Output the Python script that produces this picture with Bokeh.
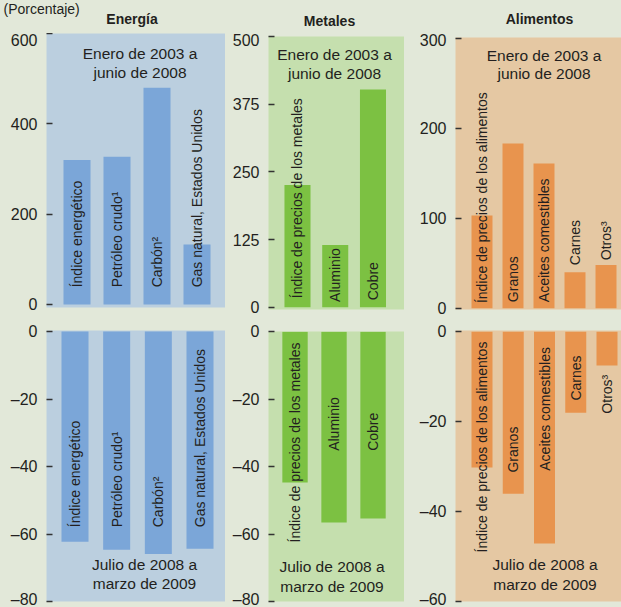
from math import pi
from bokeh.plotting import figure
from bokeh.models import FixedTicker, Label, Range1d
from bokeh.layouts import row, column
from bokeh.embed import file_html
from bokeh.resources import INLINE
from bokeh.core.properties import value

# ---------------- data ----------------
panel_titles = ["Energía", "Metales", "Alimentos"]
period_1 = ["Enero de 2003 a", "junio de 2008"]
period_2 = ["Julio de 2008 a", "marzo de 2009"]
unit_note = "(Porcentaje)"

energy_cats = ["Índice energético", "Petróleo crudo¹", "Carbón²", "Gas natural, Estados Unidos"]
energy_p1 = [320, 327, 480, 133]
energy_p2 = [-62.3, -64.7, -65.9, -64.4]

metal_cats = ["Índice de precios de los metales", "Aluminio", "Cobre"]
metal_p1 = [226, 115, 402]
metal_p2 = [-44.7, -56.6, -55.4]

food_cats = ["Índice de precios de los alimentos", "Granos", "Aceites comestibles", "Carnes", "Otros³"]
food_p1 = [103, 183, 161, 40, 48]
food_p2 = [-30.2, -36.0, -47.1, -18.0, -7.5]

energy_p1_ticks = [0, 200, 400, 600]
metal_p1_ticks = [0, 125, 250, 375, 500]
food_p1_ticks = [0, 100, 200, 300]
energy_p2_ticks = [0, -20, -40, -60, -80]
metal_p2_ticks = [0, -20, -40, -60, -80]
food_p2_ticks = [0, -20, -40, -60]

# where each rotated bar label starts (value units)
energy_p1_label_at = [38, 38, 38, 38]
energy_p2_label_at = [-58, -58, -58, -58]
metal_p1_label_at = [17, 10, 13]
metal_p2_label_at = [-62.5, -35.3, -35.3]
food_p1_label_at = [5.6, 6.7, 6.7, 47.8, 53.3]
food_p2_label_at = [-49.1, -31.3, -30.9, -15.3, -18.2]

# ---------------- style ----------------
FONT = "Liberation Sans"
TXT = "#231f20"
PAGE = "#e2e8d9"
E_BG, E_BAR = "#bbcfdf", "#7ba6d8"
M_BG, M_BAR = "#c5dfae", "#7cc142"
F_BG, F_BAR = "#e5c8a3", "#e8944e"


def panel(w, h, bl, bt, bb, xr, yr, ticks, bg, bar_c, cats, vals, label_at, bar_w):
    p = figure(width=w, height=h, x_range=Range1d(*xr), y_range=Range1d(*yr),
               output_backend="svg", toolbar_location=None, tools="",
               min_border_left=bl, min_border_right=0, min_border_top=bt,
               min_border_bottom=bb, x_axis_location=None, title=None)
    p.background_fill_color = bg
    p.border_fill_color = PAGE
    p.outline_line_color = None
    p.styles = {"background-color": PAGE}
    p.grid.visible = False
    ax = p.yaxis[0]
    ax.ticker = FixedTicker(ticks=ticks)
    ax.major_label_overrides = {t: ("–" + str(abs(t)) if t < 0 else str(t)) for t in ticks}
    ax.axis_line_color = None
    ax.major_tick_in = 6
    ax.major_tick_out = 0
    ax.major_tick_line_color = "#333333"
    ax.major_tick_line_width = 1.4
    ax.minor_tick_line_color = None
    ax.major_label_text_font = FONT
    ax.major_label_text_font_size = "16px"
    ax.major_label_text_color = TXT
    ax.major_label_standoff = 9
    idx = list(range(len(cats)))
    p.vbar(x=idx, top=vals, bottom=0, width=bar_w, fill_color=bar_c, line_color=None)
    p.text(x=idx, y=label_at, text=cats, angle=pi / 2, text_align="left",
           text_baseline="middle", text_font=value(FONT), text_font_size="14px",
           text_color=TXT)
    return p


def period(p, lines, x, ys):
    for t, y in zip(lines, ys):
        p.add_layout(Label(x=x, y=y, text=t, text_align="center", text_baseline="middle",
                           text_font=FONT, text_font_size="15.5px", text_color=TXT))


# header strip holding the unit note and the three panel titles
hdr = figure(width=621, height=33, x_range=Range1d(0, 621), y_range=Range1d(33, 0),
             output_backend="svg", toolbar_location=None, tools="", min_border=0,
             x_axis_location=None, y_axis_location=None, title=None)
hdr.background_fill_color = PAGE
hdr.border_fill_color = PAGE
hdr.outline_line_color = None
hdr.grid.visible = False
hdr.styles = {"background-color": PAGE}
hdr.add_layout(Label(x=3, y=0, text=unit_note, text_align="left", text_baseline="top",
                     text_font=FONT, text_font_size="14px", text_color=TXT))
for t, x, y in zip(panel_titles, [131.5, 329, 539], [18.5, 20.5, 18.7]):
    hdr.add_layout(Label(x=x, y=y, text=t, text_align="center", text_baseline="middle",
                         text_font=FONT, text_font_style="bold", text_font_size="14px",
                         text_color=TXT))

e1 = panel(225, 286, 46, 0, 12, (-0.7625, 3.7125), (-6.7, 600), energy_p1_ticks,
           E_BG, E_BAR, energy_cats, energy_p1, energy_p1_label_at, 0.675)
period(e1, period_1, 1.575, [555.6, 514.4])

e2 = panel(225, 288, 46, 11, 6, (-0.684, 3.612), (-80, 0.3), energy_p2_ticks,
           E_BG, E_BAR, energy_cats, energy_p2, energy_p2_label_at, 0.648)
period(e2, period_2, 1.668, [-69.1, -74.7])

m1 = panel(179, 286, 43, 3, 10, (-0.768, 2.835), (-4, 500), metal_p1_ticks,
           M_BG, M_BAR, metal_cats, metal_p1, metal_p1_label_at, 0.69)
period(m1, period_1, 0.98, [467, 431.5])

m2 = panel(179, 288, 43, 12, 6, (-0.68, 2.807), (-80, 0.1), metal_p2_ticks,
           M_BG, M_BAR, metal_cats, metal_p2, metal_p2_label_at, 0.65)
period(m2, period_2, 0.948, [-69.6, -75.6])

f1 = panel(217, 286, 51, 4, 10, (-0.855, 4.5), (-1.5, 301), food_p1_ticks,
           F_BG, F_BAR, food_cats, food_p1, food_p1_label_at, 0.677)
period(f1, period_1, 2.0, [281.4, 260.5])

f2 = panel(217, 288, 51, 11, 6, (-0.848, 4.464), (-60, 0.3), food_p2_ticks,
           F_BG, F_BAR, food_cats, food_p2, food_p2_label_at, 0.672)
period(f2, period_2, 2.016, [-51.8, -56.2])

cols = [column(e1, e2), column(m1, m2), column(f1, f2)]
for c in cols:
    c.styles = {"background-color": PAGE}
body = row(*cols)
body.styles = {"background-color": PAGE}
layout = column(hdr, body)
layout.styles = {"background-color": PAGE}
open("out.html", "w").write(file_html(layout, INLINE))
